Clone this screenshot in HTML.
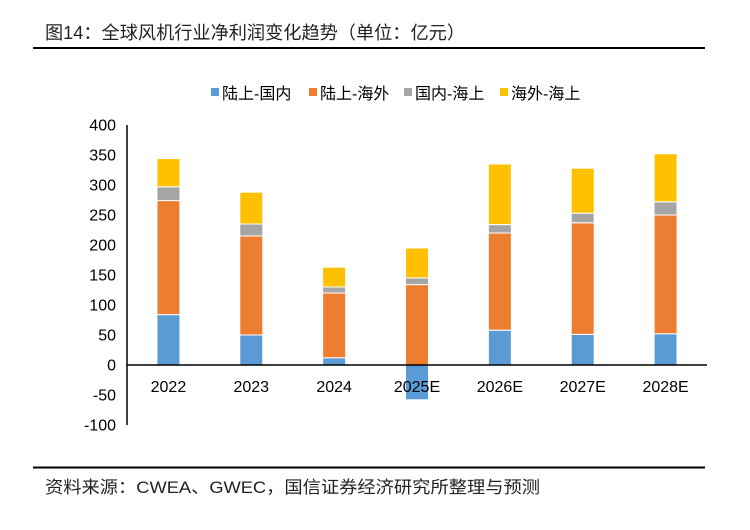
<!DOCTYPE html>
<html><head><meta charset="utf-8"><style>
html,body{margin:0;padding:0;background:#fff;}
body{width:750px;height:525px;overflow:hidden;font-family:"Liberation Sans","Noto Sans CJK SC",sans-serif;}
</style></head><body>
<svg id="chart" width="750" height="525" xmlns="http://www.w3.org/2000/svg" font-family="Liberation Sans, Noto Sans CJK SC, sans-serif">
<text x="45" y="39" font-size="18" textLength="420" lengthAdjust="spacingAndGlyphs" fill="#222">图14：全球风机行业净利润变化趋势（单位：亿元）</text>
<rect x="33" y="47" width="672" height="2" fill="#000"/>
<rect x="33" y="466.5" width="672" height="2" fill="#000"/>
<text x="45" y="493" font-size="17" textLength="495" lengthAdjust="spacingAndGlyphs" fill="#222">资料来源：CWEA、GWEC，国信证券经济研究所整理与预测</text>
<g id="legend"></g>
<g id="axes"></g>
<g id="bars"></g>
</svg>
<script>
const categories=["2022","2023","2024","2025E","2026E","2027E","2028E"];
const seriesNames=["陆上-国内","陆上-海外","国内-海上","海外-海上"];
const onshoreDomestic=[84,50,12,-58,58,51,52];
const onshoreOverseas=[190,165,108,134,162,186,198];
const offshoreDomestic=[23,20,10,11,14,16,22];
const offshoreOverseas=[47,53,33,50,101,75,80];
const yTicks=[400,350,300,250,200,150,100,50,0,-50,-100];
const colors=["#5b9bd5","#ed7d31","#a5a5a5","#ffc000"];
const NS="http://www.w3.org/2000/svg";
const x0=127,x1=707,yTop=125,yBot=425,vMax=400,vMin=-100;
function yS(v){return yTop+(vMax-v)/(vMax-vMin)*(yBot-yTop);}
const band=(x1-x0)/categories.length;
function xC(i){return x0+band*(i+0.5);}
function mk(tag,attrs,parent){const e=document.createElementNS(NS,tag);for(const k in attrs)e.setAttribute(k,attrs[k]);parent.appendChild(e);return e;}
const axes=document.getElementById('axes'),bars=document.getElementById('bars'),legend=document.getElementById('legend');
yTicks.forEach(t=>{
  const tx=mk('text',{x:116,y:yS(t)+5.5,'font-size':16,'text-anchor':'end',fill:'#000'},axes);
  tx.textContent=t;
  
  
});
const ya=mk('line',{x1:x0,x2:x0,y1:yTop,y2:yBot,stroke:'#000','stroke-width':1.5},axes);


const series=[onshoreDomestic,onshoreOverseas,offshoreDomestic,offshoreOverseas];
const bw=23;
categories.forEach((c,i)=>{
  let pos=0,neg=0;
  series.forEach((s,k)=>{
    const v=s[i];let a,b;
    if(v>=0){a=pos;b=pos+v;pos=b;}else{a=neg;b=neg+v;neg=b;}
    const yA=yS(Math.max(a,b)),yB=yS(Math.min(a,b));
    const r=mk('rect',{x:xC(i)-bw/2,y:yA,width:bw,height:Math.max(0,yB-yA),fill:colors[k],stroke:'#fff','stroke-width':1},bars);
    
    
  });
  const lb=mk('text',{x:xC(i),y:yS(0)+27,'font-size':16,'text-anchor':'middle',fill:'#000'},bars);
  lb.textContent=c;
  
  
});
const xa=mk('line',{x1:x0,x2:x1,y1:yS(0),y2:yS(0),stroke:'#000','stroke-width':1.5},bars);


const lx=[211,309,404,500];
seriesNames.forEach((n,k)=>{
  const sw=mk('rect',{x:lx[k],y:88,width:8,height:8,fill:colors[k]},legend);
  
  
  const t=mk('text',{x:lx[k]+11,y:99,'font-size':16,fill:'#000'},legend);
  t.textContent=n;
  
  
});
</script>
</body></html>
